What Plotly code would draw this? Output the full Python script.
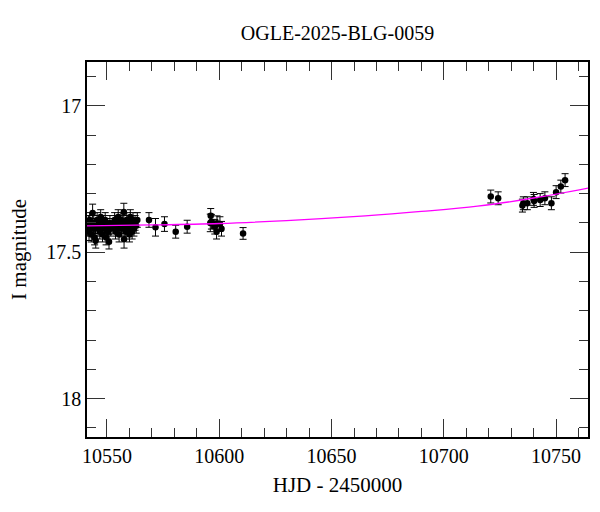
import plotly.graph_objects as go

# Observations (HJD - 2450000, I magnitude, error)
hjd = [
    10541.4, 10541.7, 10542.0, 10542.3, 10542.7, 10543.0, 10543.6, 10543.9, 10544.1, 10544.5,
    10544.9, 10545.0, 10545.6, 10546.0, 10546.4, 10546.8, 10547.2, 10547.6, 10548.0, 10548.4,
    10548.8, 10549.2, 10549.6, 10550.0, 10550.4, 10550.9, 10551.3, 10551.7,
    10553.0, 10553.4, 10553.8, 10554.2, 10554.6, 10555.0, 10555.4, 10555.8, 10556.2, 10556.6,
    10557.0, 10557.5, 10557.6, 10558.0, 10558.4, 10558.8, 10559.2, 10559.6, 10560.0, 10560.4,
    10560.8, 10561.2, 10561.6, 10562.0, 10562.5, 10563.0, 10563.5,
    10568.7, 10571.6, 10575.6, 10580.6, 10585.7,
    10596.2, 10596.5, 10596.0, 10598.0, 10598.8, 10599.0, 10601.0, 10600.3, 10610.6,
    10720.9, 10724.2, 10735.0, 10735.4, 10737.2, 10739.9, 10740.2, 10742.9, 10745.0,
    10747.9, 10750.0, 10752.1, 10754.0,
]
mag = [
    17.42, 17.40, 17.43, 17.39, 17.41, 17.44, 17.366, 17.42, 17.40, 17.45,
    17.41, 17.461, 17.39, 17.42, 17.40, 17.43, 17.38, 17.41, 17.44, 17.40,
    17.42, 17.39, 17.45, 17.41, 17.43, 17.464, 17.40, 17.42,
    17.41, 17.39, 17.43, 17.40, 17.42, 17.38, 17.44, 17.41, 17.39, 17.42,
    17.40, 17.363, 17.456, 17.41, 17.43, 17.39, 17.42, 17.40, 17.44, 17.38,
    17.41, 17.43, 17.39, 17.42, 17.40, 17.41, 17.39,
    17.390, 17.415, 17.404, 17.430, 17.413,
    17.376, 17.396, 17.400, 17.413, 17.430, 17.401, 17.420, 17.404, 17.436,
    17.310, 17.316, 17.341, 17.333, 17.333, 17.318, 17.325, 17.322, 17.316,
    17.333, 17.295, 17.276, 17.254,
]
err = [
    0.025, 0.025, 0.03, 0.025, 0.025, 0.025, 0.03, 0.025, 0.025, 0.025,
    0.025, 0.025, 0.025, 0.025, 0.025, 0.025, 0.025, 0.025, 0.025, 0.025,
    0.025, 0.025, 0.025, 0.025, 0.025, 0.025, 0.025, 0.025,
    0.025, 0.025, 0.025, 0.025, 0.025, 0.025, 0.025, 0.025, 0.025, 0.025,
    0.025, 0.03, 0.03, 0.025, 0.025, 0.025, 0.025, 0.025, 0.025, 0.025,
    0.025, 0.025, 0.025, 0.025, 0.025, 0.025, 0.025,
    0.025, 0.03, 0.025, 0.022, 0.022,
    0.025, 0.025, 0.03, 0.025, 0.025, 0.025, 0.025, 0.025, 0.02,
    0.022, 0.022, 0.022, 0.022, 0.022, 0.022, 0.022, 0.022, 0.022,
    0.022, 0.022, 0.022, 0.022,
]

# Model curve
model_hjd = [10541.0, 10570.0, 10600.0, 10630.0, 10665.0, 10690.0, 10715.0, 10740.0, 10765.0]
model_mag = [17.410, 17.407, 17.402, 17.392, 17.376, 17.361, 17.343, 17.315, 17.280]

title_text = "OGLE-2025-BLG-0059"
x_title = "HJD - 2450000"
y_title = "I magnitude"

FONT = "Liberation Serif"

fig = go.Figure()
fig.add_trace(go.Scatter(
    x=hjd, y=mag, mode="markers",
    marker=dict(color="black", size=6.5),
    error_y=dict(type="data", array=err, visible=True, color="black", thickness=1, width=3.5),
    showlegend=False,
))
fig.add_trace(go.Scatter(
    x=model_hjd, y=model_mag, mode="lines", line=dict(color="#ff00ff", width=1.3, shape="spline"),
    showlegend=False,
))

axis_common = dict(
    ticks="inside", mirror="allticks", showline=True, linecolor="black", linewidth=1.5,
    tickcolor="#333333", tickwidth=1, ticklen=18, showgrid=False, zeroline=False,
    tickfont=dict(family=FONT, size=20, color="black"),
    title_font=dict(family=FONT, size=21, color="black"),
)

fig.update_xaxes(
    range=[10541.1, 10764.2], dtick=50, tick0=10550, tickformat="d",
    minor=dict(dtick=10, ticklen=9, ticks="inside", tickcolor="#333333", tickwidth=1, showgrid=False),
    title_text=x_title, title_standoff=12, **axis_common,
)
fig.update_yaxes(
    range=[18.1308, 16.8508], dtick=0.5, tick0=17,
    minor=dict(dtick=0.1, ticklen=9, ticks="inside", tickcolor="#333333", tickwidth=1, showgrid=False),
    title_text=y_title, title_standoff=14, **axis_common,
)

fig.update_layout(
    width=600, height=512,
    margin=dict(l=87, r=12, t=62, b=75, autoexpand=False),
    paper_bgcolor="white", plot_bgcolor="white",
    title=dict(text=title_text, x=0.5, xref="paper", xanchor="center",
               y=1 - 33 / 512, yref="container", yanchor="middle",
               font=dict(family=FONT, size=20, color="black")),
    font=dict(family=FONT, color="black"),
)

fig.write_html("out.html")
